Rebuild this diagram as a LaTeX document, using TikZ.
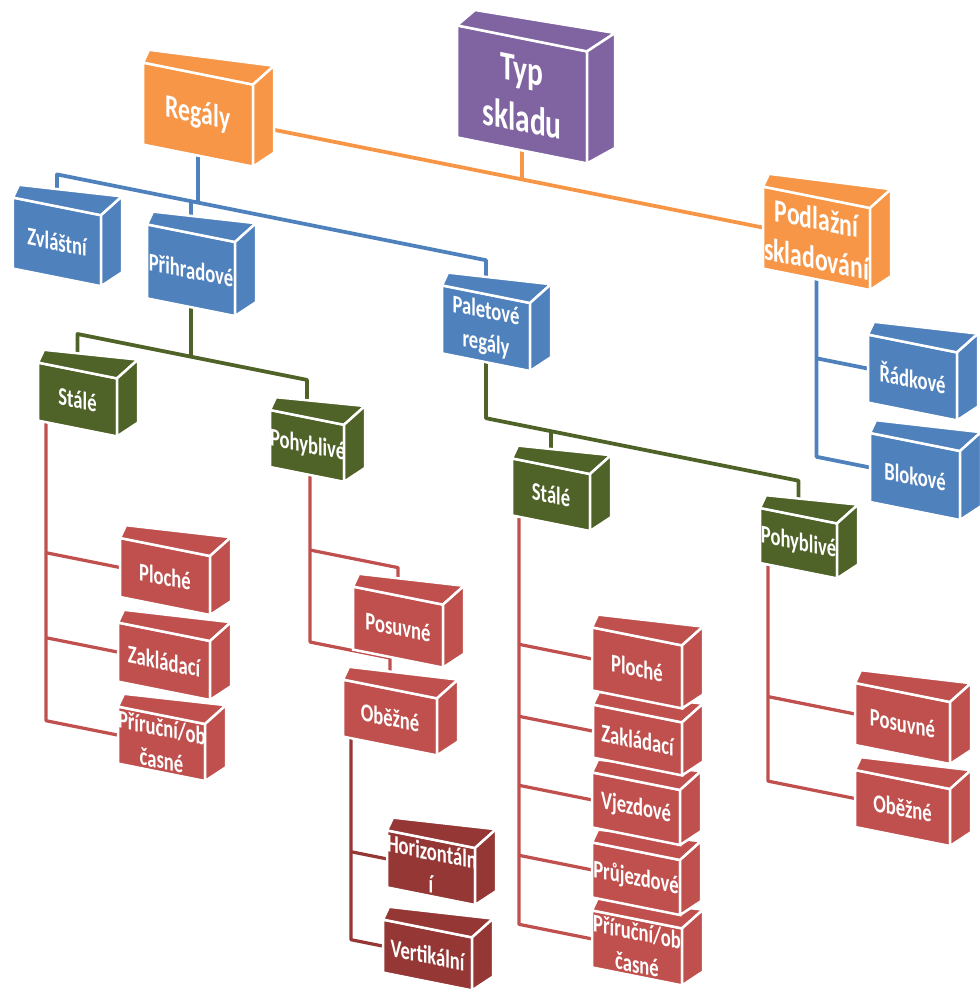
\documentclass[tikz,border=0pt]{standalone}
\usepackage{fontspec}
\newfontfamily\boxfont[FakeStretch=0.73]{Carlito}
\usetikzlibrary{calc}
\pgfdeclarelayer{bg}
\pgfsetlayers{bg,main}
\definecolor{cOr}{HTML}{F79646}
\definecolor{cPu}{HTML}{8064A2}
\definecolor{cBl}{HTML}{4F81BD}
\definecolor{cGr}{HTML}{4F6228}
\definecolor{cRd}{HTML}{C0504D}
\definecolor{cDr}{HTML}{953735}
\tikzset{
  box/.style={rectangle, fill=#1, draw=white, line width=0.05cm, text=white,
    align=center, inner sep=0pt, outer sep=0pt, transform shape, anchor=north west},
  sz/.style 2 args={/utils/exec={\pgfmathsetlengthmacro\boxtw{#1*0.02cm}},
    text width=\boxtw, minimum height=#2*0.02cm},
  face/.style={draw=white, line width=0.05cm, line join=round},
  lblS/.style={font=\boxfont\bfseries\fontsize{14.5}{18.5}\selectfont},
  lblM/.style={font=\boxfont\bfseries\fontsize{18.5}{23}\selectfont},
  lblL/.style={font=\boxfont\bfseries\fontsize{23}{28}\selectfont},
  conn/.style={line width=0.075cm, line join=round},
  orline/.style={conn, draw=cOr},
  blline/.style={conn, draw=cBl},
  grline/.style={conn, draw=cGr},
  rdline/.style={line width=0.065cm, line join=round, draw=cRd},
  drline/.style={line width=0.065cm, line join=round, draw=cDr},
}
\newcommand\faces[5]{%
  \filldraw[fill=#2, face] (#1.north west) -- ($(#1.north west)+(#3)$)
     -- ($(#1.north east)+(#4)$) -- (#1.north east) -- cycle;
  \filldraw[fill=#2, face] (#1.north east) -- ($(#1.north east)+(#4)$)
     -- ($(#1.south east)+(#5)$) -- (#1.south east) -- cycle;}
\newcommand\cube[7][lblS]{%
  \node[box=#3, #1, sz={#5}{#6}] (#2) at (#4) {#7};
  \faces{#2}{#3}{6,-14}{21,-23}{21,-18}}
\begin{document}
\begin{tikzpicture}[x=0.02cm, y=-0.02cm]
\useasboundingbox (0,0) rectangle (980,991);
\begin{scope}[yslant=-0.2]
  % level 0 and 1
  \node[box=cPu, lblL, sz={130}{112}] (typ) at (457,-66) {Typ\\skladu};
  \faces{typ}{cPu}{18,-19}{28,-24}{28,-21}
  \cube[lblM]{reg}{cOr}{143,34}{110}{82}{Regály}
  \cube[lblM]{pod}{cOr}{763,34}{107}{82}{Podlažní\\skladování}
  % level 2
  \cube{zvl}{cBl}{13,195}{88}{71}{Zvláštní}
  \cube{pri}{cBl}{147,195}{88}{74}{Přihradové}
  \cube{pal}{cBl}{442,197}{88}{68}{Paletové\\regály}
  \cube{blo}{cBl}{870,259}{90}{69}{Blokové}
  \cube{rad}{cBl}{868,161}{89}{68}{Řádkové}
  % level 3
  \cube{stL}{cGr}{38,355}{79}{58}{Stálé}
  \cube{pohL}{cGr}{270,356}{74}{57}{Pohyblivé}
  \cube{stM}{cGr}{512,356}{78}{57}{Stálé}
  \cube{pohR}{cGr}{760,356}{77}{55}{Pohyblivé}
  % level 4
  \cube{pr1}{cRd}{118,683}{87}{57}{Příruční/ob\\časné}
  \cube{za1}{cRd}{118,599}{92}{59}{Zakládací}
  \cube{pl1}{cRd}{120,514}{90}{59}{Ploché}
  \cube{obe1}{cRd}{343,611}{94}{57}{Oběžné}
  \cube{pos1}{cRd}{353,516}{90}{63}{Posuvné}
  \cube{ver}{cDr}{383,843}{89}{53}{Vertikální}
  \cube{hor}{cDr}{387,753}{88}{57}{Horizontáln\\í}
  \cube{pr2}{cRd}{592,792}{90}{57}{Příruční/ob\\časné}
  \cube{pru}{cRd}{592,724}{88}{55}{Průjezdové}
  \cube{vje}{cRd}{592,654}{88}{55}{Vjezdové}
  \cube{za2}{cRd}{593,586}{89}{53}{Zakládací}
  \cube{pl2}{cRd}{592,509}{90}{63}{Ploché}
  \cube{obe2}{cRd}{855,599}{95}{57}{Oběžné}
  \cube{pos2}{cRd}{855,512}{95}{62}{Posuvné}

  \begin{pgfonlayer}{bg}
    % orange
    \draw[orline] (reg.east) -- (pod.west);
    \draw[orline] (typ.south) -- ($(typ.south)+(0,29)$);
    % blue under Regaly
    \draw[blline] (reg.south) -- ($(reg.south)+(0,47)$);
    \draw[blline] (zvl.north) -- ($(zvl.north)+(0,-32)$) -- ($(pal.north)+(0,-34)$) -- (pal.north);
    \draw[blline] (pri.north) -- ($(pri.north)+(0,-32)$);
    % blue under Podlazni
    \draw[blline] (pod.south) -- ($(pod.south)+(0,177.5)$) -- (blo.west);
    \draw[blline] ($(pod.south)+(0,79)$) -- (rad.west);
    % green
    \draw[grline] (pri.south) -- ($(pri.south)+(0,49.5)$);
    \draw[grline] (stL.north) -- ($(stL.north)+(0,-36.5)$) -- ($(pohL.north)+(0,-37.5)$) -- (pohL.north);
    \draw[grline] (pal.south) -- ($(pal.south)+(0,56)$) -- ($(pohR.north)+(0,-35)$) -- (pohR.north);
    \draw[grline] (stM.north) -- ($(stM.north)+(0,-35)$);
    % red, left Stale
    \draw[rdline] ($(stL.south west)+(8,0)$) -- ($(stL.south west)+(8,298.5)$) -- (pr1.west);
    \draw[rdline] ($(stL.south west)+(8,130.5)$) -- (pl1.west);
    \draw[rdline] ($(stL.south west)+(8,215.5)$) -- (za1.west);
    % red, left Pohyblive
    \draw[rdline] ($(pohL.south west)+(40,0)$) -- ($(pohL.south west)+(40,167)$) -- ($(obe1.north)+(0,-31)$) -- (obe1.north);
    \draw[rdline] ($(pohL.south west)+(40,75)$) -- ($(pos1.north)+(0,-28)$) -- (pos1.north);
    % dark red, Obezne
    \draw[drline] ($(obe1.south west)+(8,0)$) -- ($(obe1.south west)+(8,201.5)$) -- (ver.west);
    \draw[drline] ($(obe1.south west)+(8,113.5)$) -- (hor.west);
    % red, middle Stale
    \draw[rdline] ($(stM.south west)+(7,0)$) -- ($(stM.south west)+(7,407.5)$) -- (pr2.west);
    \draw[rdline] ($(stM.south west)+(7,127.5)$) -- (pl2.west);
    \draw[rdline] ($(stM.south west)+(7,199.5)$) -- (za2.west);
    \draw[rdline] ($(stM.south west)+(7,268.5)$) -- (vje.west);
    \draw[rdline] ($(stM.south west)+(7,338.5)$) -- (pru.west);
    % red, right Pohyblive
    \draw[rdline] ($(pohR.south west)+(8,0)$) -- ($(pohR.south west)+(8,216.5)$) -- (obe2.west);
    \draw[rdline] ($(pohR.south west)+(8,132)$) -- (pos2.west);
  \end{pgfonlayer}
\end{scope}
\end{tikzpicture}
\end{document}
